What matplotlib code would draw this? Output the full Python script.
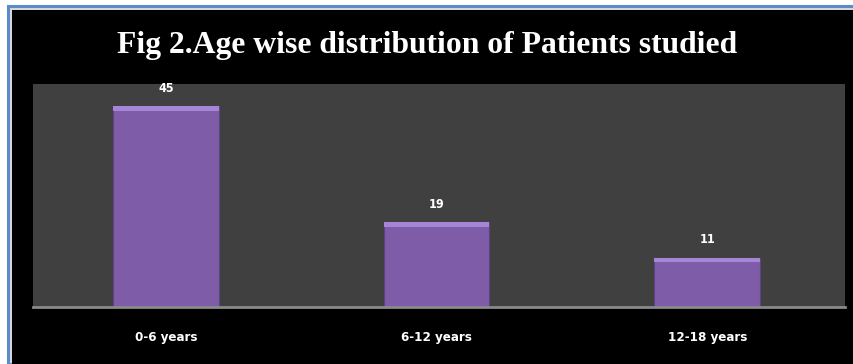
import matplotlib
matplotlib.use("Agg")
import matplotlib.pyplot as plt
from matplotlib.patches import Rectangle

age_groups = ["0-6 years", "6-12 years", "12-18 years"]
patients = [45, 19, 11]

bar_color = "#7e5ca8"
bevel_color = "#a585d6"
panel_color = "#404040"

plt.rcParams["font.family"] = ["DejaVu Sans"]

fig = plt.figure(figsize=(8.54, 3.64), dpi=100, facecolor="white")

# frame: blue outline around a black slide background
fig.patches.append(Rectangle((8 / 854, 0), 1, 1 - 6 / 364, transform=fig.transFigure,
                             facecolor="#d8d8d8", edgecolor="#5b8bc9", linewidth=2.2, zorder=-2))
fig.patches.append(Rectangle((12 / 854, 0), 1, 1 - 10 / 364, transform=fig.transFigure,
                             facecolor="black", edgecolor="none", zorder=-1))

fig.text(0.5, 1 - 45 / 364, "Fig 2.Age wise distribution of Patients studied",
         ha="center", va="center", color="white", fontsize=22.8, fontweight="bold",
         family="Liberation Serif")

ax = fig.add_axes([33 / 854, 57 / 364, 812 / 854, 223 / 364])
ax.set_facecolor(panel_color)
x = range(len(age_groups))
width = 0.39
ax.bar(x, patients, width=width, color=bar_color, edgecolor="#5e4282", linewidth=0.8, zorder=2)
# lighter bevel strip along the top of each bar
ax.bar(x, [1.0] * len(patients), bottom=[p - 1.0 for p in patients], width=width,
       color=bevel_color, edgecolor="none", zorder=3)

for xi, val in zip(x, patients):
    ax.annotate(str(val), (xi, val), xytext=(0, 13), textcoords="offset points",
                ha="center", va="center", color="white", fontsize=9, fontweight="bold",
                fontstretch="condensed")

ax.set_xlim(-0.491, 2.509)
ax.set_ylim(0, 50)
ax.set_yticks([])
ax.set_xticks(list(x))
ax.set_xticklabels(age_groups, color="white", fontsize=9.5, fontweight="bold",
                   fontstretch="condensed")
ax.tick_params(axis="x", length=0, pad=17)
for side in ["top", "left", "right"]:
    ax.spines[side].set_visible(False)
ax.spines["bottom"].set_color("#8a8a8a")
ax.spines["bottom"].set_linewidth(2)

fig.savefig("out.png", dpi=100, facecolor=fig.get_facecolor())
